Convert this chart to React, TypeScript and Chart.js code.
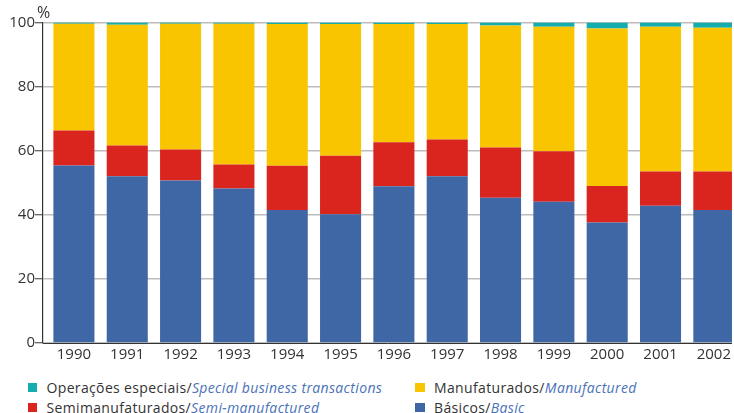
import React, { useEffect, useRef } from "react";
import { Chart, registerables } from "chart.js";

Chart.register(...registerables);

const years = [1990, 1991, 1992, 1993, 1994, 1995, 1996, 1997, 1998, 1999, 2000, 2001, 2002];
const basicos = [55.4, 52.0, 50.7, 48.2, 41.5, 40.2, 48.9, 52.0, 45.3, 44.1, 37.6, 42.8, 41.5];
const semimanufaturados = [10.9, 9.6, 9.7, 7.5, 13.8, 18.2, 13.7, 11.5, 15.7, 15.7, 11.4, 10.7, 12.0];
const manufaturados = [33.3, 37.7, 39.2, 43.9, 44.2, 41.1, 36.9, 36.0, 38.1, 38.9, 49.1, 45.2, 44.9];
const operacoesEspeciais = [0.4, 0.7, 0.4, 0.4, 0.5, 0.5, 0.5, 0.5, 0.9, 1.3, 1.9, 1.3, 1.6];
const yTicks = [0, 20, 40, 60, 80, 100];

const COLORS = {
  teal: "#14adae",
  yellow: "#f8c500",
  red: "#da251e",
  blue: "#3f67a6",
};

const FONT = "'Open Sans', 'DejaVu Sans', sans-serif";

const legendItems = [
  { pt: "Operações especiais/", en: "Special business transactions", color: COLORS.teal, x: 27.5, y: 383 },
  { pt: "Manufaturados/", en: "Manufactured", color: COLORS.yellow, x: 415, y: 383 },
  { pt: "Semimanufaturados/", en: "Semi-manufactured", color: COLORS.red, x: 27.5, y: 402.5 },
  { pt: "Básicos/", en: "Basic", color: COLORS.blue, x: 415, y: 402.5 },
];

export default function App() {
  const ref = useRef<HTMLCanvasElement | null>(null);

  useEffect(() => {
    if (!ref.current) return;
    const chart = new Chart(ref.current, {
      type: "bar",
      data: {
        labels: years,
        datasets: [
          { label: "Básicos", data: basicos, backgroundColor: COLORS.blue },
          { label: "Semimanufaturados", data: semimanufaturados, backgroundColor: COLORS.red },
          { label: "Manufaturados", data: manufaturados, backgroundColor: COLORS.yellow },
          { label: "Operações especiais", data: operacoesEspeciais, backgroundColor: COLORS.teal },
        ],
      },
      options: {
        animation: false,
        responsive: true,
        maintainAspectRatio: false,
        layout: { padding: { top: 22.5, right: 0, bottom: 5, left: 0 } },
        datasets: {
          bar: { barPercentage: 0.77, categoryPercentage: 1, borderWidth: 0 },
        },
        plugins: { legend: { display: false }, tooltip: { enabled: false } },
        scales: {
          x: {
            type: "linear",
            stacked: true,
            offset: false,
            min: 1989.42,
            max: 2002.34,
            afterBuildTicks: (scale: any) => {
              scale.ticks = years.map((v) => ({ value: v }));
            },
            grid: { display: false, drawTicks: false, offset: false },
            border: { color: "#333", width: 1 },
            ticks: {
              autoSkip: false,
              maxRotation: 0,
              padding: 3,
              color: "#333",
              font: { family: FONT, size: 15 },
              callback: (v: any) => String(v),
            },
          },
          y: {
            stacked: true,
            min: 0,
            max: 100,
            afterBuildTicks: (scale: any) => {
              scale.ticks = yTicks.map((v) => ({ value: v }));
            },
            afterFit: (scale: any) => {
              scale.width = 43;
            },
            grid: { color: "#bdbdbd", lineWidth: 1.5, tickColor: "#333", tickLength: 8, tickWidth: 1 },
            border: { color: "#333", width: 1.2 },
            ticks: {
              padding: 0,
              color: "#333",
              font: { family: FONT, size: 15 },
            },
          },
        },
      },
    });
    return () => chart.destroy();
  }, []);

  return (
    <div style={{ position: "fixed", left: 0, top: 0, width: 734, height: 413, overflow: "hidden", background: "#fff" }}>
      <div style={{ position: "absolute", left: 0, top: 0, width: 734, height: 372 }}>
        <canvas ref={ref} />
      </div>
      <div
        style={{
          position: "absolute",
          left: 37,
          top: 4,
          fontFamily: FONT,
          fontSize: 16,
          color: "#333",
          lineHeight: "17px",
        }}
      >
        %
      </div>
      {legendItems.map((it) => (
        <div key={it.pt} style={{ position: "absolute", left: it.x, top: it.y, height: 9, display: "flex", alignItems: "center", whiteSpace: "nowrap" }}>
          <span style={{ display: "inline-block", width: 9.5, height: 9, background: it.color, marginRight: 9.5 }} />
          <span style={{ fontFamily: FONT, fontSize: 14, letterSpacing: 0.35, color: "#333", lineHeight: "9px" }}>
            {it.pt}
            <span style={{ fontStyle: "italic", color: "#4a72b8" }}>{it.en}</span>
          </span>
        </div>
      ))}
    </div>
  );
}
